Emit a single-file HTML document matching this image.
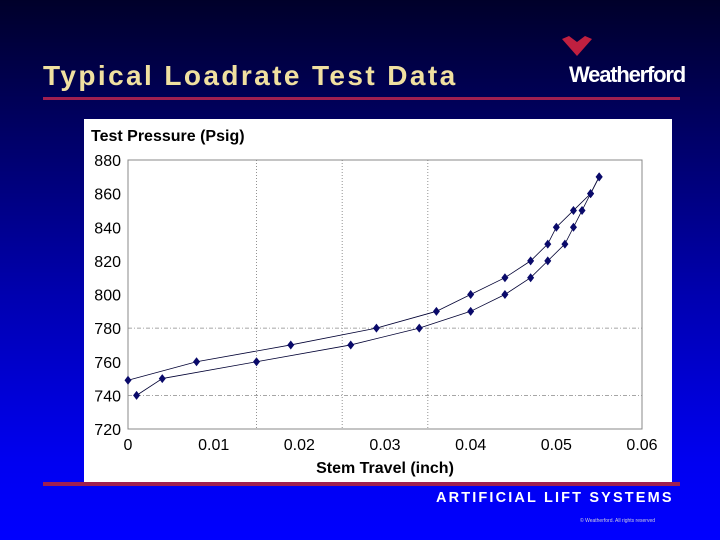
<!DOCTYPE html>
<html><head><meta charset="utf-8"><style>
html,body{margin:0;padding:0}
body{width:720px;height:540px;overflow:hidden;position:relative;background:linear-gradient(to bottom,#00002a 0%,#00005a 20%,#0000b0 55%,#0000f0 85%,#0000ff 100%);font-family:"Liberation Sans",Arial,sans-serif}
.title{position:absolute;left:43px;top:60px;color:#f0e0a0;font-weight:bold;font-size:28px;letter-spacing:2.4px}
.rule{position:absolute;background:#a02050}
</style></head><body>
<div class="title">Typical Loadrate Test Data</div>
<svg style="position:absolute;left:560px;top:36px" width="40" height="24"><path d="M2 3 L9 0 L17 6 L25 0 L32 3 L17 20 Z" fill="#c02040"/></svg>
<div style="position:absolute;left:569px;top:62px;color:#fff;font-weight:bold;font-size:22px;letter-spacing:-1.2px;transform:scaleX(1.0);transform-origin:left">Weatherford</div>
<div class="rule" style="left:43px;top:97px;width:637px;height:3px"></div>
<div style="position:absolute;left:84px;top:119px;width:588px;height:364px;background:#fff"></div>
<div class="rule" style="left:43px;top:482px;width:637px;height:4px"></div>
<div style="position:absolute;left:436px;top:490px;color:#fff;font-weight:bold;font-size:14.5px;letter-spacing:2.15px">ARTIFICIAL LIFT SYSTEMS</div>
<div style="position:absolute;left:580px;top:518px;color:#ccd;font-size:5px">© Weatherford. All rights reserved</div>
<svg id="chart" style="position:absolute;left:0;top:0" width="720" height="540"></svg>
<script>
const xTicks=[0,0.01,0.02,0.03,0.04,0.05,0.06];
const xTickLabels=["0","0.01","0.02","0.03","0.04","0.05","0.06"];
const yTicks=[720,740,760,780,800,820,840,860,880];
const vGrid=[0.015,0.025,0.035];
const hGrid=[740,780];
const upX=[0,0.008,0.019,0.029,0.036,0.040,0.044,0.047,0.049,0.050,0.052,0.054,0.055];
const upY=[749,760,770,780,790,800,810,820,830,840,850,860,870];
const loX=[0.001,0.004,0.015,0.026,0.034,0.040,0.044,0.047,0.049,0.051,0.052,0.053,0.054,0.055];
const loY=[740,750,760,770,780,790,800,810,820,830,840,850,860,870];
const X0=128,X1=642,Y0=429,Y1=160;
const sx=v=>X0+(v-0)/(0.06)*(X1-X0);
const sy=v=>Y0-(v-720)/(160)*(Y0-Y1);
const svg=document.getElementById('chart');const NS='http://www.w3.org/2000/svg';
function mk(t,a){const e=document.createElementNS(NS,t);for(const k in a)e.setAttribute(k,a[k]);svg.appendChild(e);return e;}
let r=mk('rect',{x:X0,y:Y1,width:X1-X0,height:Y0-Y1,fill:'none',stroke:'#888','stroke-width':1});


vGrid.forEach(v=>{const l=mk('line',{x1:sx(v),x2:sx(v),y1:Y1,y2:Y0,stroke:'#777','stroke-dasharray':'1,2','stroke-width':0.8});

});
hGrid.forEach(v=>{const l=mk('line',{x1:X0,x2:X1,y1:sy(v),y2:sy(v),stroke:'#888','stroke-dasharray':'4,2,1,2','stroke-width':0.8});

});
yTicks.forEach(v=>{const t=mk('text',{x:121,y:sy(v)+6,'text-anchor':'end','font-size':16,fill:'#000','font-family':'Liberation Sans,sans-serif'});t.textContent=v;

});
xTicks.forEach((v,i)=>{const t=mk('text',{x:sx(v),y:450,'text-anchor':'middle','font-size':16,fill:'#000','font-family':'Liberation Sans,sans-serif'});t.textContent=xTickLabels[i];

});
let yt=mk('text',{x:91,y:141,'font-size':16,'font-weight':'bold',fill:'#000','font-family':'Liberation Sans,sans-serif'});yt.textContent='Test Pressure (Psig)';


let xt=mk('text',{x:385,y:473,'text-anchor':'middle','font-size':16,'font-weight':'bold',fill:'#000','font-family':'Liberation Sans,sans-serif'});xt.textContent='Stem Travel (inch)';


function series(xs,ys,name){
 const p=mk('polyline',{points:xs.map((x,i)=>sx(x)+','+sy(ys[i])).join(' '),fill:'none',stroke:'#000033','stroke-width':0.8});
 
 
 xs.forEach((x,i)=>{const cx=sx(x),cy=sy(ys[i]);
  const d=mk('path',{d:`M${cx} ${cy-4.5}L${cx+3.5} ${cy}L${cx} ${cy+4.5}L${cx-3.5} ${cy}Z`,fill:'#0a0a6a'});
  
  });
}
series(upX,upY,'loading-series');
series(loX,loY,'unloading-series');
</script>
</body></html>
